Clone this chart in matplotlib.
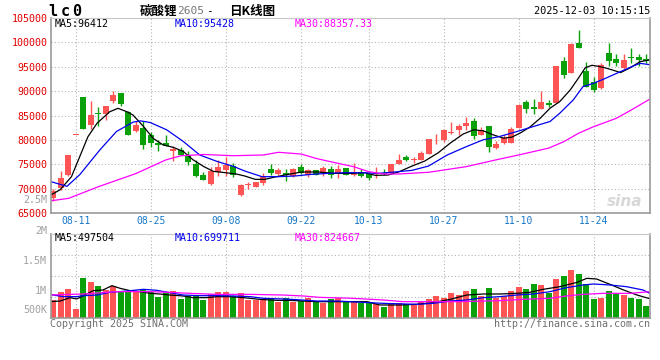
import matplotlib.pyplot as plt
import numpy as np

W, H = 660, 360

# daily candles, 2025-08-06 .. 2025-12-03
opens = [68080, 70130, 72860, 81000, 88815, 82950, 85500, 85340, 88000, 89630,
         85680, 81860, 82400, 81040, 79270, 79330, 77630, 77830, 76950, 75110,
         72860, 71015, 73330, 73740, 74700, 68760, 70700, 70400, 71220, 73950,
         72930, 73130, 72590, 74500, 72790, 73750, 73130, 73950, 72930, 74160,
         72800, 73410, 72930, 73100, 73270, 73130, 74970, 76540, 75900, 75790,
         77020, 79700, 79890, 81500, 82060, 82880, 83900, 81040, 82750, 78240,
         79340, 79340, 82400, 87860, 86700, 86290, 87520, 87660, 96180, 93800,
         99930, 94140, 91880, 90730, 97890, 96590, 94680, 96900, 97000, 96520]
highs = [69870, 73540, 77000, 81050, 88815, 88000, 86840, 86970, 90040, 89630,
         85950, 83770, 83770, 81520, 80000, 81040, 78650, 78520, 77630, 75790,
         73330, 74420, 75790, 76470, 75250, 71015, 71290, 71400, 73130, 75110,
         74160, 73950, 74290, 74970, 74090, 73800, 74630, 74630, 74840, 74200,
         75320, 73950, 73270, 74430, 73950, 75110, 77020, 76820, 76540, 77700,
         80090, 81110, 82270, 83640, 83290, 84790, 84450, 82610, 82880, 79680,
         81040, 82540, 87320, 88200, 88410, 90040, 88200, 95160, 97070, 99930,
         102520, 95910, 92840, 95700, 99930, 97610, 97610, 98770, 97540, 97610]
lows = [67470, 69790, 72650, 80950, 82270, 82270, 82750, 84110, 87520, 87040,
        80900, 81590, 78110, 78450, 77630, 78650, 75580, 76950, 74900, 72380,
        71700, 70810, 72520, 72520, 72380, 68420, 69990, 70300, 70740, 72720,
        72720, 71560, 72450, 72930, 72380, 72700, 72590, 72110, 72250, 72700,
        72590, 72450, 71700, 72250, 72800, 73130, 74970, 75660, 75320, 75790,
        77020, 79070, 79610, 81110, 81040, 82060, 80150, 81040, 77490, 78110,
        79200, 79340, 82400, 85610, 85270, 86290, 86700, 87660, 92770, 93800,
        98910, 90930, 89900, 90450, 95160, 95230, 94540, 95840, 95230, 95840]
closes = [69520, 72170, 76950, 81040, 82270, 85130, 85300, 86970, 89224, 87380,
          80900, 82950, 78860, 79335, 78930, 78650, 78180, 76950, 75380, 72520,
          71700, 73540, 74350, 74900, 72860, 70810, 70800, 71360, 72590, 73130,
          73750, 72720, 73950, 73130, 73750, 72790, 74160, 72720, 73950, 72790,
          72900, 72590, 72110, 73200, 72930, 75110, 75790, 75790, 76000, 77230,
          80090, 79800, 81930, 81600, 82880, 83430, 80700, 82060, 78450, 79200,
          80360, 82270, 87180, 86290, 86290, 87860, 87110, 95160, 93320, 99660,
          98910, 90930, 90250, 95360, 96250, 95840, 96390, 96800, 96450, 96110]
volumes = [0.900, 1.033, 1.089, 0.750, 1.272, 1.206, 1.133, 1.067, 1.133, 1.050,
           1.050, 1.050, 1.083, 1.028, 0.956, 1.022, 1.050, 0.922, 0.972, 0.972,
           0.906, 0.994, 1.033, 1.033, 0.972, 1.017, 0.906, 0.906, 0.906, 0.939,
           0.872, 0.939, 0.872, 0.889, 0.939, 0.872, 0.850, 0.922, 0.939, 0.872,
           0.872, 0.856, 0.856, 0.833, 0.789, 0.833, 0.856, 0.833, 0.817, 0.872,
           0.922, 0.972, 0.939, 1.022, 0.989, 1.056, 1.089, 0.972, 1.106, 0.939,
           0.972, 1.056, 1.122, 1.089, 1.172, 1.156, 1.022, 1.256, 1.306, 1.406,
           1.339, 1.172, 0.922, 0.939, 1.056, 1.022, 0.989, 0.939, 0.922, 0.806]

tick_idx = [3, 13, 23, 33, 42, 52, 62, 72]
tick_labels = ['08-11', '08-25', '09-08', '09-22', '10-13', '10-27', '11-10', '11-24']

# moving averages (index, value)
ma5_x = [-0.5, 0.9, 2.4, 3.5, 4.6, 5.8, 7.5, 8.6, 9.8, 10.6, 12, 13.3, 14.6, 16, 17.3,
         18.6, 20, 21.3, 22.6, 24.4, 25.5, 26.9, 28.2, 29.5, 31.3, 33.1, 35.3, 37.5,
         39.8, 41.5, 42.9, 44.6, 46, 47.8, 49.5, 51.3, 52.9, 54.6, 56, 57.3, 58.6, 60,
         61.1, 62.2, 63.5, 64.9, 66.2, 67.5, 68.9, 70, 70.9, 71.8, 72.6, 73.5, 74.6,
         75.6, 76.9, 78.2, 79.5]
ma5_y = [68560, 69790, 72450, 76560, 80660, 83400, 85770, 86470, 85770, 85100, 82750,
         80300, 78990, 78450, 77630, 75920, 74560, 73540, 73330, 72990, 72590, 71900,
         71900, 72380, 72930, 73410, 73410, 73130, 73130, 73270, 72720, 72790, 73410,
         74630, 75660, 77360, 79340, 81180, 82060, 81860, 81040, 80360, 80560, 81380,
         82610, 84450, 86500, 87860, 90250, 92700, 94800, 95300, 95100, 94800, 94300,
         93800, 94800, 96040, 96412]
ma10_x = [-0.5, 1.8, 3.5, 6.2, 8.4, 10.6, 11.6, 12.9, 15.1, 17.3, 19.5, 21.8, 24, 25.5,
          27.8, 30, 32.2, 34.4, 36.6, 38.9, 41.1, 43.3, 45.5, 47.8, 50, 52.5, 55.1,
          57.3, 59.5, 61.8, 64, 66.2, 67.5, 69.3, 70.6, 72, 73.3, 75.1, 76.9, 78.2, 79.5]
ma10_y = [71500, 70470, 72860, 77970, 81720, 83630, 83900, 83560, 82060, 79680, 76900,
          75580, 74560, 73610, 72450, 72450, 72590, 72930, 73130, 73270, 73270, 73130,
          73410, 73750, 74630, 76900, 78650, 80020, 80700, 81720, 82750, 83770, 85470,
          88200, 90930, 91610, 92430, 93660, 94890, 95700, 95428]
ma30_x = [-0.5, 2, 6, 11, 15, 17, 20, 24, 28, 30, 33, 35, 37, 40, 42, 44, 46, 50, 55,
          59, 62, 66, 68, 70, 72, 75, 77, 79.5]
ma30_y = [67470, 68000, 70400, 73100, 75900, 76750, 77000, 76750, 76900, 77450, 77100,
          76200, 75500, 74500, 73500, 73000, 73000, 73350, 74500, 75900, 76900, 78300,
          79600, 81350, 82700, 84400, 86100, 88357]

vma5_x = [-0.5, 0.9, 2.2, 3.1, 4, 5.3, 6.6, 7.8, 8.9, 10.2, 11.5, 12.9, 14.2, 15.5, 17.3,
          18.6, 20.4, 21.8, 23.5, 25.3, 27.5, 29.8, 31.5, 33.3, 35.1, 36.9, 39.5, 41.8,
          43.5, 46.2, 48.4, 50.6, 52.9, 55.1, 57.3, 59.5, 61.8, 63.5, 65.3, 67.5, 69.8,
          71.1, 72.4, 74.2, 76, 77.8, 79.5]
vma5_y = [0.872, 0.883, 0.939, 0.917, 0.972, 1.056, 1.067, 1.139, 1.094, 1.056, 1.039,
          1.011, 1.000, 0.983, 0.967, 0.939, 0.939, 0.956, 0.956, 0.939, 0.911, 0.894,
          0.894, 0.883, 0.872, 0.872, 0.872, 0.872, 0.817, 0.817, 0.828, 0.856, 0.911,
          0.983, 1.000, 1.000, 1.011, 1.028, 1.078, 1.122, 1.194, 1.261, 1.250, 1.161,
          1.067, 0.983, 0.922]
vma10_x = [-0.5, 1.3, 3.1, 4, 5.8, 7.5, 9.8, 12, 13.8, 15.5, 17.3, 19.5, 21.8, 24, 26.2,
           28, 30.6, 32.4, 35.1, 37.8, 39.5, 44, 48.4, 50.6, 52.9, 55.1, 57.3, 59.5, 61.8,
           64, 66.2, 68.4, 70.6, 72, 74.2, 76.4, 78.6, 79.5]
vma10_y = [0.994, 0.956, 0.956, 0.972, 0.983, 1.028, 1.050, 1.078, 1.061, 1.022, 0.983,
           0.972, 0.972, 0.967, 0.956, 0.928, 0.917, 0.906, 0.883, 0.883, 0.872, 0.844,
           0.828, 0.844, 0.883, 0.900, 0.939, 0.956, 0.983, 1.000, 1.039, 1.106, 1.150,
           1.167, 1.150, 1.122, 1.067, 1.011]
vma30_x = [-0.5, 4, 8.4, 12.9, 15.5, 18.2, 21.8, 26.2, 30.6, 33.3, 35.5, 39.5, 44, 46.6,
           50.6, 53.8, 57.3, 59.5, 62.6, 66.2, 68.4, 70.6, 73.3, 76.9, 79.5]
vma30_y = [0.983, 1.000, 1.039, 1.039, 1.028, 1.011, 0.994, 0.994, 0.983, 0.967, 0.944,
           0.930, 0.900, 0.872, 0.872, 0.872, 0.883, 0.889, 0.911, 0.928, 0.967, 0.994,
           1.011, 1.011, 1.039]

RED = '#ff5454'
GREEN = '#0aa00a'
GRID = '#b4b4b4'
MONO = 'DejaVu Sans Mono'
CJK = ['Noto Sans CJK SC', 'DejaVu Sans']


def fx(x):
    return x / W


def fy(y):
    return 1 - y / H


fig = plt.figure(figsize=(W / 100, H / 100), dpi=100)
ax = fig.add_axes([fx(51), fy(213), 599 / W, 195 / H])
axv = fig.add_axes([fx(51), fy(318), 599 / W, 84 / H])

x = np.arange(len(closes))
o = np.array(opens)
c = np.array(closes)
cols = np.where(c >= o, RED, GREEN)

# price panel
ax.vlines(x, lows, highs, colors=cols, lw=1)
ax.bar(x, np.maximum(np.abs(c - o), 150), bottom=np.minimum(o, c), width=0.8,
       color=cols, linewidth=0)
ax.plot(ma5_x, ma5_y, color='black', lw=0.9)
ax.plot(ma10_x, ma10_y, color='#0000ee', lw=0.9)
ax.plot(ma30_x, ma30_y, color='#ff00ff', lw=0.9)

xl = (-0.33, 79.53)
ax.set_xlim(*xl)
ax.set_ylim(65000, 105000)
ax.set_yticks(range(65000, 105001, 5000))
ax.set_yticklabels([str(v) for v in range(65000, 105001, 5000)],
                   family=MONO, fontsize=7.2, color='#e00000')
ax.set_xticks(tick_idx)
ax.set_xticklabels(tick_labels, family=MONO, fontsize=7, color='#1677c8')
ax.tick_params(length=0, pad=2.5)
ax.tick_params(axis='x', pad=2)
ax.grid(True, color=GRID, linestyle=(0, (1, 2)), lw=0.8)
ax.set_axisbelow(True)

# volume panel
axv.bar(x, np.array(volumes) * 1e6, width=0.8, color=cols, linewidth=0)
axv.plot(vma5_x, np.array(vma5_y) * 1e6, color='black', lw=0.9)
axv.plot(vma10_x, np.array(vma10_y) * 1e6, color='#0000ee', lw=0.9)
axv.plot(vma30_x, np.array(vma30_y) * 1e6, color='#ff00ff', lw=0.9)
axv.set_xlim(*xl)
axv.set_ylim(0.6e6, 2.0e6)
axv.set_yticks([0.95e6, 1.3e6, 1.65e6])
axv.set_xticks(tick_idx)
axv.set_xticklabels([])
axv.set_yticklabels([])
axv.tick_params(length=0)
axv.grid(True, color=GRID, linestyle=(0, (1, 2)), lw=0.8)
axv.set_axisbelow(True)

for a in (ax, axv):
    for s in ('left', 'bottom', 'right'):
        a.spines[s].set_color('#999999')
        a.spines[s].set_linewidth(1.2)
    a.spines['top'].set_color('#c8c8c8')
    a.spines['top'].set_linewidth(0.8)

# header
for ch, xx in [('l', 53), ('c', 65), ('0', 77)]:
    fig.text(fx(xx), fy(11), ch, family=MONO, fontsize=11, fontweight='bold',
             va='center', ha='center')
fig.text(fx(140), fy(11), '碳酸锂', family=CJK, fontsize=9, fontweight='bold',
         va='center', ha='left')
fig.text(fx(177), fy(11), '2605', family=MONO, fontsize=8, color='#777777',
         va='center', ha='left')
fig.text(fx(206), fy(11), '-', family=MONO, fontsize=8, va='center', ha='left')
fig.text(fx(229), fy(11), '日K线图', family=CJK, fontsize=9, fontweight='bold',
         va='center', ha='left')
fig.text(fx(650), fy(11), '2025-12-03 10:15:15', family=MONO, fontsize=7.4,
         va='center', ha='right')

fig.text(fx(55), fy(24), 'MA5:96412', family=MONO, fontsize=7.2, va='center')
fig.text(fx(175), fy(24), 'MA10:95428', family=MONO, fontsize=7.2, color='#0000ee',
         va='center')
fig.text(fx(295), fy(24), 'MA30:88357.33', family=MONO, fontsize=7.2, color='#ff00ff',
         va='center')
fig.text(fx(55), fy(238), 'MA5:497504', family=MONO, fontsize=7.2, va='center')
fig.text(fx(175), fy(238), 'MA10:699711', family=MONO, fontsize=7.2, color='#0000ee',
         va='center')
fig.text(fx(295), fy(238), 'MA30:824667', family=MONO, fontsize=7.2, color='#ff00ff',
         va='center')

# volume scale labels
for lab, yy in [('2.5M', 200), ('2M', 231), ('1.5M', 261), ('1M', 291), ('500K', 310)]:
    fig.text(fx(47), fy(yy), lab, family=MONO, fontsize=7.2, color='#a0a0a0',
             va='center', ha='right')

fig.text(fx(625), fy(201), 'sina', fontsize=11, fontweight='bold', style='italic',
         color='#d8d8d8', va='center', ha='center')

fig.text(fx(50), fy(324), 'Copyright 2025 SINA.COM', family=MONO, fontsize=7.2,
         color='#707070', va='center', ha='left')
fig.text(fx(650), fy(324), 'http://finance.sina.com.cn', family=MONO, fontsize=7.2,
         color='#707070', va='center', ha='right')

fig.savefig('out.png', dpi=100)
